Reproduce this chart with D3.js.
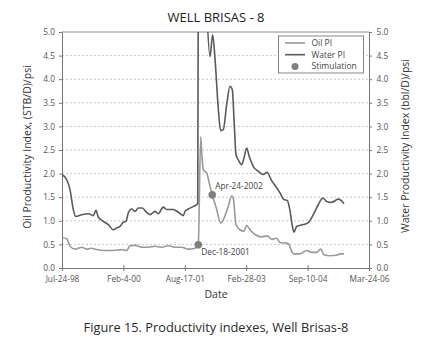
<!DOCTYPE html>
<html>
<head>
<meta charset="utf-8">
<script src="https://cdn.jsdelivr.net/npm/d3@7"></script>
<style>
  body { margin: 0; background: #fff; }
  text { font-family: "Open Sans", sans-serif; }
</style>
</head>
<body>
<svg id="svg" width="433" height="345"></svg>
<script>
// days counted from Jul-24-98 (axis start)
const waterDays = [0, 43, 73, 103, 125, 180, 240, 285, 310, 331, 377, 422, 468, 499, 529, 559, 584, 605, 636, 666, 696, 732, 772, 803, 848, 878, 924, 955, 1015, 1061, 1106, 1122, 1152, 1195, 1238, 1244, 1267, 1309, 1350, 1374, 1395, 1425, 1447, 1471, 1502, 1532, 1553, 1571, 1587, 1608, 1639, 1660, 1684, 1708, 1745, 1790, 1836, 1870, 1912, 1958, 1988, 2024, 2055, 2079, 2104, 2116, 2140, 2201, 2246, 2292, 2337, 2378, 2414, 2460, 2520, 2535, 2572];
const waterPI = [1.98, 1.87, 1.66, 1.24, 1.09, 1.13, 1.15, 1.11, 1.22, 1.08, 0.99, 0.92, 0.81, 0.85, 0.88, 0.97, 0.99, 1.17, 1.25, 1.20, 1.27, 1.27, 1.18, 1.13, 1.20, 1.15, 1.29, 1.24, 1.24, 1.18, 1.11, 1.20, 1.25, 1.30, 1.36, 7.0, 8.0, 6.0, 4.48, 4.94, 4.45, 3.39, 2.91, 2.93, 3.46, 3.85, 3.78, 3.04, 2.40, 2.29, 2.19, 2.33, 2.54, 2.36, 2.15, 2.05, 1.98, 2.03, 1.85, 1.70, 1.59, 1.45, 1.43, 1.22, 0.85, 0.76, 0.88, 0.92, 0.96, 1.13, 1.34, 1.48, 1.41, 1.39, 1.46, 1.45, 1.36];

const oilDays = [0, 43, 73, 119, 180, 225, 271, 316, 377, 468, 544, 590, 620, 666, 727, 787, 848, 909, 969, 1031, 1092, 1152, 1213, 1243, 1265, 1274, 1289, 1320, 1350, 1371, 1411, 1447, 1471, 1517, 1548, 1562, 1587, 1623, 1660, 1684, 1715, 1760, 1821, 1872, 1912, 1958, 1988, 2034, 2064, 2095, 2116, 2171, 2232, 2277, 2323, 2359, 2389, 2444, 2505, 2535, 2572];
const oilPI = [0.64, 0.62, 0.46, 0.40, 0.44, 0.40, 0.42, 0.39, 0.37, 0.37, 0.39, 0.37, 0.47, 0.48, 0.44, 0.44, 0.46, 0.44, 0.47, 0.44, 0.44, 0.40, 0.42, 0.49, 2.78, 2.44, 2.08, 2.01, 1.73, 1.55, 1.24, 0.95, 1.02, 1.31, 1.53, 1.48, 0.92, 0.81, 0.78, 0.90, 0.81, 0.71, 0.66, 0.68, 0.61, 0.63, 0.54, 0.53, 0.52, 0.35, 0.30, 0.30, 0.37, 0.33, 0.33, 0.40, 0.28, 0.26, 0.27, 0.30, 0.30];

const stimLabels = ["Dec-18-2001", "Apr-24-2002"];
const stimDays = [1243, 1370];
const stimPI = [0.49, 1.55];

const xTickLabels = ["Jul-24-98", "Feb-4-00", "Aug-17-01", "Feb-28-03", "Sep-10-04", "Mar-24-06"];
const yTicks = [0, 0.5, 1, 1.5, 2, 2.5, 3, 3.5, 4, 4.5, 5];

const svg = d3.select("#svg"),
    mLeft = 62, mRight = 369, mTop = 32, mBottom = 268;

const start = new Date(1998, 6, 24);
const day = d => d3.timeDay.offset(start, d);

const x = d3.scaleTime().domain([start, day(2800)]).range([mLeft, mRight]);
const y = d3.scaleLinear().domain([0, 5]).range([mBottom, mTop]);

// grid
svg.append("g").selectAll("line").data(yTicks.slice(1, -1)).join("line")
    .attr("x1", mLeft).attr("x2", mRight)
    .attr("y1", d => y(d)).attr("y2", d => y(d))
    .attr("stroke", "#bbb").attr("stroke-width", 0.8).attr("stroke-dasharray", "2,2");

svg.append("line").attr("x1", mLeft).attr("x2", mRight).attr("y1", mTop).attr("y2", mTop)
    .attr("stroke", "#888").attr("stroke-width", 1);

const xTickVals = xTickLabels.map((d, i) => day(i * 560));

const xAxis = svg.append("g").attr("transform", "translate(0," + mBottom + ")")
    .call(d3.axisBottom(x).tickValues(xTickVals).tickFormat((d, i) => xTickLabels[i]).tickSize(3).tickSizeOuter(0));
const yAxisL = svg.append("g").attr("transform", "translate(" + mLeft + ",0)")
    .call(d3.axisLeft(y).tickValues(yTicks).tickFormat(d3.format(".1f")).tickSize(3).tickSizeOuter(0));
const yAxisR = svg.append("g").attr("transform", "translate(" + mRight + ",0)")
    .call(d3.axisRight(y).tickValues(yTicks).tickFormat(d3.format(".1f")).tickSize(3).tickSizeOuter(0));

[xAxis, yAxisL, yAxisR].forEach(g => {
    g.select(".domain").attr("stroke", "#777");
    g.selectAll(".tick line").attr("stroke", "#777");
    g.selectAll(".tick text").attr("fill", "#555").style("font-size", "8.3px");
});
xAxis.selectAll(".tick line").attr("y1", -3);
xAxis.selectAll(".tick text").attr("dy", "0.95em");
yAxisL.selectAll(".tick text").attr("x", -7);
yAxisR.selectAll(".tick text").attr("x", 7.5);

svg.append("clipPath").attr("id", "clip").append("rect")
    .attr("x", mLeft).attr("y", mTop).attr("width", mRight - mLeft).attr("height", mBottom - mTop);

const line = d3.line().x(d => x(day(d[0]))).y(d => y(d[1])).curve(d3.curveMonotoneX);

const plot = svg.append("g").attr("clip-path", "url(#clip)");
plot.append("path").attr("d", line(oilDays.map((d, i) => [d, oilPI[i]])))
    .attr("fill", "none").attr("stroke", "#999").attr("stroke-width", 1.6);
plot.append("path").attr("d", line(waterDays.map((d, i) => [d, waterPI[i]])))
    .attr("fill", "none").attr("stroke", "#5a5a5a").attr("stroke-width", 1.6);

svg.selectAll(".stim").data(stimDays).join("circle")
    .attr("cx", d => x(day(d))).attr("cy", (d, i) => y(stimPI[i])).attr("r", 3.8)
    .attr("fill", "#808080");

svg.selectAll(".stimlab").data(stimLabels).join("text")
    .attr("x", (d, i) => x(day(stimDays[i])) + 3)
    .attr("y", (d, i) => y(stimPI[i]) + (i ? -6 : 10))
    .attr("fill", "#444").style("font-size", "8.3px").text(d => d);

// legend
const lg = svg.append("g");
lg.append("rect").attr("x", 278.5).attr("y", 36).attr("width", 85).attr("height", 37)
    .attr("fill", "#fff").attr("stroke", "#666").attr("stroke-width", 0.8);
const legendItems = ["Oil PI", "Water PI", "Stimulation"];
legendItems.forEach((t, i) => {
    const yy = 43 + i * 11.7;
    if (i < 2) {
        lg.append("line").attr("x1", 285).attr("x2", 305).attr("y1", yy).attr("y2", yy)
            .attr("stroke", i ? "#5a5a5a" : "#999").attr("stroke-width", 1.6);
    } else {
        lg.append("circle").attr("cx", 295).attr("cy", yy).attr("r", 3.5).attr("fill", "#808080");
    }
    lg.append("text").attr("x", 311.5).attr("y", yy + 3).attr("fill", "#444")
        .style("font-size", "8.5px").text(t);
});

svg.append("text").attr("x", 216).attr("y", 22).attr("text-anchor", "middle")
    .attr("fill", "#222").style("font-size", "13px").text("WELL BRISAS - 8");
svg.append("text").attr("x", 216).attr("y", 298).attr("text-anchor", "middle")
    .attr("fill", "#333").style("font-size", "10.5px").text("Date");
svg.append("text").attr("transform", "translate(31," + 147 + ") rotate(-90)")
    .attr("text-anchor", "middle").attr("fill", "#333").style("font-size", "10.5px")
    .text("Oil Productivity  Index, (STB/D)/psi");
svg.append("text").attr("transform", "translate(409," + 146 + ") rotate(-90)")
    .attr("text-anchor", "middle").attr("fill", "#333").style("font-size", "10.5px")
    .text("Water Productivity Index (bbl/D)/psi");
svg.append("text").attr("x", 216).attr("y", 332).attr("text-anchor", "middle")
    .attr("fill", "#2a2a2a").style("font-size", "12.8px").text("Figure 15. Productivity indexes, Well Brisas-8");
</script>
</body>
</html>
